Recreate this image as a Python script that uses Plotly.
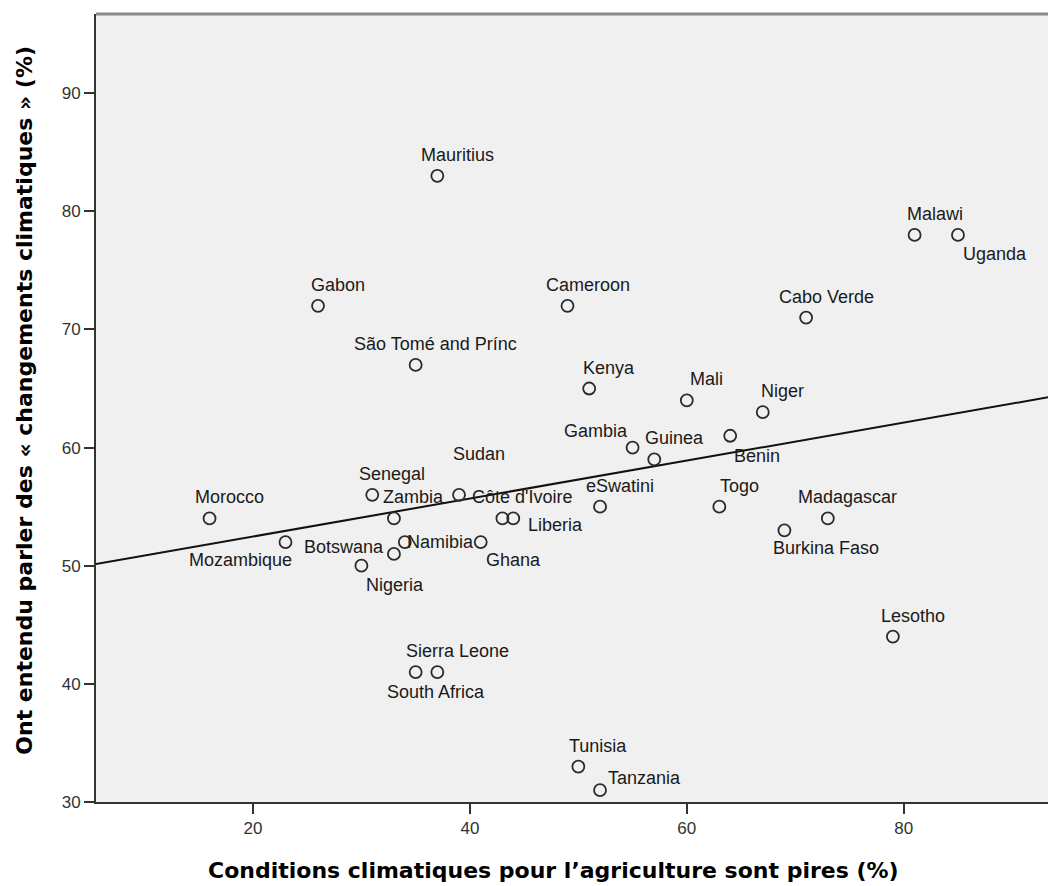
import numpy as np
import plotly.graph_objects as go

# Country-level survey results (%)
countries = [
    "Morocco", "Mozambique", "Gabon", "Senegal", "Nigeria", "Zambia",
    "Botswana", "Namibia", "São Tomé and Prínc", "Sierra Leone",
    "South Africa", "Mauritius", "Sudan", "Ghana", "Côte d'Ivoire",
    "Liberia", "Cameroon", "Tunisia", "Kenya", "eSwatini", "Tanzania",
    "Gambia", "Guinea", "Mali", "Togo", "Benin", "Niger", "Burkina Faso",
    "Cabo Verde", "Madagascar", "Lesotho", "Malawi", "Uganda",
]
worse_conditions = [
    16, 23, 26, 31, 30, 33, 33, 34, 35, 37, 35, 37, 39, 41, 43, 44, 49,
    50, 51, 52, 52, 55, 57, 60, 63, 64, 67, 69, 71, 73, 79, 81, 85,
]
heard_of_cc = [
    54, 52, 72, 56, 50, 54, 51, 52, 67, 41, 41, 83, 56, 52, 54, 54, 72,
    33, 65, 55, 31, 60, 59, 64, 55, 61, 63, 53, 71, 54, 44, 78, 78,
]
x_ticks = [20, 40, 60, 80]
y_ticks = [30, 40, 50, 60, 70, 80, 90]
x_range = [5.53, 93.3]
y_range = [30, 96.7]

# Label placement (pixel offsets from the marker: right, down)
DEFAULT_OFFSET = (20, -21)
LABEL_OFFSETS = {
    "Mozambique": (-45, 18),
    "Botswana": (-50, -7),
    "Namibia": (36, 0),
    "Nigeria": (34, 19),
    "Sudan": (20, -41),
    "Ghana": (33, 18),
    "Liberia": (42, 7),
    "Gambia": (-37, -17),
    "Benin": (27, 20),
    "Burkina Faso": (42, 18),
    "Uganda": (37, 19),
    "South Africa": (20, 20),
    "Tanzania": (44, -12),
}

label_font = dict(family="Liberation Sans, Arial, sans-serif", size=18, color="#1a1a1a")
title_font = dict(family="DejaVu Sans, sans-serif", size=22, color="#000000")

fig = go.Figure()

# Linear fit line across the full horizontal axis
slope, intercept = np.polyfit(worse_conditions, heard_of_cc, 1)
fit_x = np.array(x_range)
fig.add_trace(go.Scatter(
    x=fit_x, y=slope * fit_x + intercept, mode="lines",
    line=dict(color="#111111", width=2), hoverinfo="skip", showlegend=False,
))

fig.add_trace(go.Scatter(
    x=worse_conditions, y=heard_of_cc, mode="markers",
    marker=dict(symbol="circle-open", size=12, color="#2a2a2a",
                line=dict(width=1.8, color="#2a2a2a")),
    text=countries, showlegend=False,
))

for name, xv, yv in zip(countries, worse_conditions, heard_of_cc):
    dx, dy = LABEL_OFFSETS.get(name, DEFAULT_OFFSET)
    fig.add_annotation(
        x=xv, y=yv, text=name, showarrow=False,
        xanchor="center", yanchor="middle",
        xshift=dx, yshift=-dy, font=label_font,
    )

# Axis titles
fig.add_annotation(
    xref="paper", yref="paper", x=0.481, y=-0.087,
    text="<b>Conditions climatiques pour l’agriculture sont pires (%)</b>",
    showarrow=False, xanchor="center", yanchor="middle", font=title_font,
)
fig.add_annotation(
    xref="paper", yref="paper", x=-0.075, y=0.51,
    text="<b>Ont entendu parler des « changements climatiques » (%)</b>",
    textangle=-90, showarrow=False, xanchor="center", yanchor="middle",
    font=title_font,
)

# Top frame line
fig.add_shape(type="line", xref="paper", yref="paper", x0=0, x1=1, y0=1, y1=1,
              line=dict(color="#8a8a8a", width=3))

axis_common = dict(
    showgrid=False, zeroline=False, showline=True, linecolor="#333333",
    linewidth=2, ticks="outside", ticklen=10, tickwidth=2, tickcolor="#333333",
    tickfont=dict(family="Liberation Sans, Arial, sans-serif", size=17, color="#333333"),
)
fig.update_xaxes(range=x_range, tickvals=x_ticks, **axis_common)
fig.update_yaxes(range=y_range, tickvals=y_ticks, **axis_common)

fig.update_layout(
    width=1048, height=886,
    margin=dict(l=96, r=0, t=14, b=84),
    plot_bgcolor="#f0f0f0", paper_bgcolor="#ffffff",
)

fig.write_html("out.html")
